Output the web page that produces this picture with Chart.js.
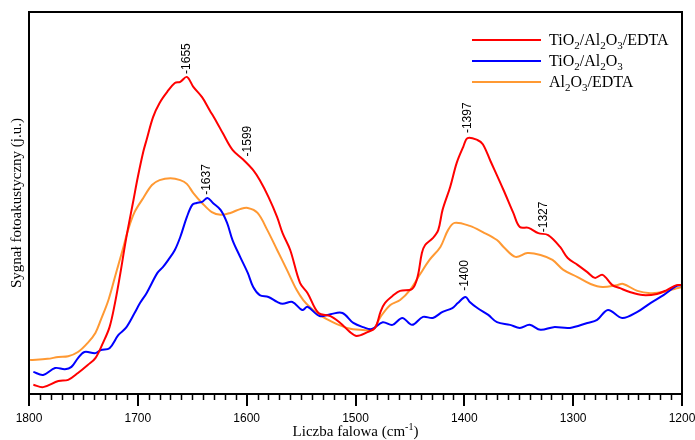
<!DOCTYPE html>
<html>
<head>
<meta charset="utf-8">
<title>Widma fotoakustyczne</title>
<script src="https://cdn.jsdelivr.net/npm/chart.js@4/dist/chart.umd.min.js"></script>
<style>
  html, body { margin: 0; padding: 0; background: #ffffff; }
  #wrap { width: 695px; height: 440px; }
</style>
</head>
<body>
<div id="wrap"><canvas id="c" width="695" height="440"></canvas></div>
<script>
// Wavenumbers (cm-1) and photoacoustic signal (arbitrary units, 0-100) for each sample
const redWave = [1796,1787,1773,1764,1755,1746,1739,1732,1726,1721,1716,1711,1704,1700,1695,1692,1686,1680,1673,1666,1661,1655,1649,1641,1634,1627,1622,1613,1603,1594,1588,1580,1572,1567,1560,1551,1544,1534,1523,1514,1505,1499,1489,1482,1477,1473,1465,1459,1448,1443,1439,1436,1429,1424,1420,1413,1407,1401,1397,1388,1383,1376,1364,1355,1349,1341,1332,1323,1312,1305,1296,1287,1280,1273,1264,1257,1248,1236,1223,1214,1205,1200];
const redSignal = [2.4,1.8,3.4,3.7,5.5,7.6,9.4,13.4,17.5,23.8,31.7,40.3,50.8,56.8,63.4,66.5,72.5,76.2,79.1,81.4,81.7,83.0,80.4,77.7,74.3,70.9,68.3,63.9,61.3,58.6,56.0,51.6,46.3,42.1,37.7,29.1,26.4,21.2,20.4,18.6,16.2,15.2,16.2,17.3,21.5,23.8,25.9,27.0,27.5,30.6,36.9,39.0,40.8,42.9,48.2,54.2,60.5,64.7,67.0,66.5,65.4,61.0,53.4,47.4,43.7,43.5,42.1,41.6,38.5,35.6,33.8,31.9,30.4,31.2,28.5,27.7,26.7,25.9,26.2,27.2,28.5,28.5];

const blueWave = [1796,1787,1776,1767,1761,1755,1749,1739,1734,1726,1718,1711,1703,1698,1692,1682,1677,1672,1666,1661,1655,1650,1646,1641,1636,1631,1624,1618,1613,1606,1599,1594,1588,1580,1572,1567,1558,1549,1544,1533,1523,1512,1502,1493,1485,1475,1466,1457,1448,1438,1429,1420,1411,1406,1399,1395,1388,1378,1370,1358,1349,1340,1330,1318,1303,1287,1278,1268,1255,1241,1229,1217,1205,1200];
const blueSignal = [5.8,5.0,6.8,6.5,7.1,9.4,11.0,10.7,11.5,12.0,15.4,17.3,21.2,23.8,26.4,31.7,33.2,35.1,37.7,41.1,46.3,49.5,50.0,50.3,51.3,50.0,48.2,44.8,40.3,35.9,31.7,28.0,25.9,25.4,24.1,23.6,24.1,22.0,22.8,20.4,20.9,21.2,18.6,17.5,17.0,18.8,18.1,19.9,18.1,20.2,19.9,21.5,22.5,23.8,25.4,24.1,22.5,20.7,18.8,18.1,17.3,18.1,16.8,17.5,17.3,18.6,19.4,22.0,19.9,21.5,23.8,25.9,28.3,28.5];

const orangeWave = [1799,1783,1773,1764,1755,1746,1739,1734,1727,1720,1714,1709,1703,1695,1687,1680,1670,1661,1655,1649,1641,1632,1624,1615,1606,1599,1590,1581,1572,1563,1554,1548,1542,1533,1521,1508,1496,1484,1477,1468,1459,1450,1441,1432,1422,1415,1409,1395,1383,1370,1363,1353,1342,1330,1319,1309,1296,1284,1273,1260,1254,1241,1229,1217,1205,1200];
const orangeSignal = [8.9,9.2,9.7,9.9,11.0,13.4,16.0,19.4,24.6,31.7,37.7,42.9,47.6,51.3,54.7,56.0,56.5,56.0,55.0,52.6,50.0,47.6,46.9,47.4,48.4,48.7,47.4,42.9,37.7,32.5,27.2,24.6,22.8,20.7,18.8,17.3,16.8,17.0,20.2,23.3,24.6,27.2,31.2,35.1,38.5,42.9,44.8,44.0,42.4,40.3,38.2,35.9,36.9,36.4,35.1,32.5,30.6,28.8,28.0,28.5,28.8,27.0,26.4,26.7,27.7,28.0];

const seriesNames = ['TiO2/Al2O3/EDTA', 'TiO2/Al2O3', 'Al2O3/EDTA'];

// Marked band positions (cm-1) and the series each one belongs to
const bandWave = [1655, 1599, 1637, 1397, 1327, 1400];
const bandSeries = [0, 0, 1, 0, 0, 1];

// Major tick labels of the wavenumber axis
const waveTicks = [1800, 1700, 1600, 1500, 1400, 1300, 1200];

const xTitle = 'Liczba falowa (cm';
const xTitleSup = '-1';
const yTitle = 'Sygnał fotoakustyczny (j.u.)';

const colors = ['#ff0000', '#0000ff', '#ff9933'];
const bandGap = [3, 8, 4, 5, 2, 7];

function pts(w, s) { return w.map((v, i) => ({ x: v, y: s[i] })); }

function valueAt(wave, sig, w) {
  for (let i = 0; i < wave.length - 1; i++) {
    const a = wave[i], b = wave[i + 1];
    if ((w <= a && w >= b) || (w >= a && w <= b)) {
      const t = (w - a) / (b - a);
      return sig[i] + t * (sig[i + 1] - sig[i]);
    }
  }
  return sig[0];
}

// Draws text whose digit runs are set as subscripts (chemical formulas)
function drawFormula(ctx, text, x, y, size, subSize, drop, family) {
  let cx = x;
  const parts = text.match(/\d+|\D+/g);
  ctx.textAlign = 'left';
  ctx.textBaseline = 'alphabetic';
  for (const p of parts) {
    if (/^\d+$/.test(p)) {
      ctx.font = subSize + 'px ' + family;
      ctx.fillText(p, cx, y + drop);
    } else {
      ctx.font = size + 'px ' + family;
      ctx.fillText(p, cx, y);
    }
    cx += ctx.measureText(p).width;
  }
}

const decorPlugin = {
  id: 'decor',
  afterDatasetsDraw(chart) {
    const ctx = chart.ctx;
    const xs = chart.scales.x, ys = chart.scales.y;
    const sets = [[redWave, redSignal], [blueWave, blueSignal], [orangeWave, orangeSignal]];
    ctx.save();
    ctx.fillStyle = '#000';
    ctx.font = '12px "Liberation Sans", Arial, sans-serif';
    bandWave.forEach((w, i) => {
      const s = sets[bandSeries[i]];
      const px = xs.getPixelForValue(w);
      const py = ys.getPixelForValue(valueAt(s[0], s[1], w)) - bandGap[i];
      ctx.save();
      ctx.translate(px, py);
      ctx.rotate(-Math.PI / 2);
      ctx.textAlign = 'left';
      ctx.textBaseline = 'middle';
      ctx.fillText('-' + w, 0, 0);
      ctx.restore();
    });
    ctx.restore();
  },
  afterDraw(chart) {
    const ctx = chart.ctx;
    const a = chart.chartArea;
    const xs = chart.scales.x;
    ctx.save();
    // frame
    ctx.strokeStyle = '#000';
    ctx.lineWidth = 2;
    ctx.strokeRect(a.left, a.top, a.right - a.left, a.bottom - a.top);
    // minor ticks every 10 cm-1
    ctx.lineWidth = 1.5;
    ctx.beginPath();
    for (let w = 1790; w > 1200; w -= 10) {
      if (w % 100 === 0) continue;
      const px = Math.round(xs.getPixelForValue(w)) + 0.5;
      ctx.moveTo(px, a.bottom);
      ctx.lineTo(px, a.bottom + 6);
    }
    ctx.stroke();

    // legend
    const lx0 = 472, lx1 = 541, tx = 549;
    chart.data.datasets.forEach((ds, i) => {
      const y = 40 + i * 21;
      ctx.strokeStyle = ds.borderColor;
      ctx.lineWidth = 2;
      ctx.beginPath();
      ctx.moveTo(lx0, y);
      ctx.lineTo(lx1, y);
      ctx.stroke();
      ctx.fillStyle = '#000';
      drawFormula(ctx, ds.label, tx, y + 5, 16, 11, 3.5, '"Liberation Serif", "Times New Roman", serif');
    });

    // axis titles
    ctx.fillStyle = '#000';
    const serif = '"Liberation Serif", "Times New Roman", serif';
    ctx.font = '15px ' + serif;
    const mainW = ctx.measureText(xTitle).width;
    ctx.font = '10px ' + serif;
    const supW = ctx.measureText(xTitleSup).width;
    ctx.font = '15px ' + serif;
    const closeW = ctx.measureText(')').width;
    const total = mainW + supW + closeW;
    let cx = (a.left + a.right) / 2 - total / 2;
    const by = 436;
    ctx.textAlign = 'left';
    ctx.textBaseline = 'alphabetic';
    ctx.fillText(xTitle, cx, by);
    cx += mainW;
    ctx.font = '10px ' + serif;
    ctx.fillText(xTitleSup, cx, by - 6);
    cx += supW;
    ctx.font = '15px ' + serif;
    ctx.fillText(')', cx, by);

    ctx.save();
    ctx.translate(17, (a.top + a.bottom) / 2);
    ctx.rotate(-Math.PI / 2);
    ctx.textAlign = 'center';
    ctx.textBaseline = 'middle';
    ctx.font = '15px ' + serif;
    ctx.fillText(yTitle, 0, 0);
    ctx.restore();
    ctx.restore();
  }
};

const lineStyle = { borderWidth: 2, pointRadius: 0, tension: 0.35, fill: false };

new Chart(document.getElementById('c'), {
  type: 'line',
  data: {
    datasets: [
      Object.assign({ label: seriesNames[0], data: pts(redWave, redSignal), borderColor: colors[0] }, lineStyle),
      Object.assign({ label: seriesNames[1], data: pts(blueWave, blueSignal), borderColor: colors[1] }, lineStyle),
      Object.assign({ label: seriesNames[2], data: pts(orangeWave, orangeSignal), borderColor: colors[2] }, lineStyle)
    ]
  },
  options: {
    responsive: false,
    animation: false,
    devicePixelRatio: 1,
    layout: { padding: { top: 12, right: 13, left: 0, bottom: 0 } },
    plugins: { legend: { display: false }, tooltip: { enabled: false } },
    scales: {
      x: {
        type: 'linear',
        reverse: true,
        min: 1200,
        max: 1800,
        afterFit: s => { s.height = 46; s.paddingLeft = 0; s.paddingRight = 0; },
        afterBuildTicks: s => { s.ticks = waveTicks.map(v => ({ value: v })); },
        ticks: {
          color: '#000',
          font: { family: '"Liberation Sans", Arial, sans-serif', size: 12 },
          padding: 5,
          maxRotation: 0,
          autoSkip: false,
          callback: v => String(v)
        },
        grid: { display: true, drawOnChartArea: false, drawTicks: true, tickLength: 12, color: '#000', lineWidth: 2 },
        border: { display: true, color: '#000', width: 2 }
      },
      y: {
        min: 0,
        max: 100,
        afterFit: s => { s.width = 29; },
        ticks: { display: false },
        grid: { display: false },
        border: { display: false }
      }
    }
  },
  plugins: [decorPlugin]
});
</script>
</body>
</html>
